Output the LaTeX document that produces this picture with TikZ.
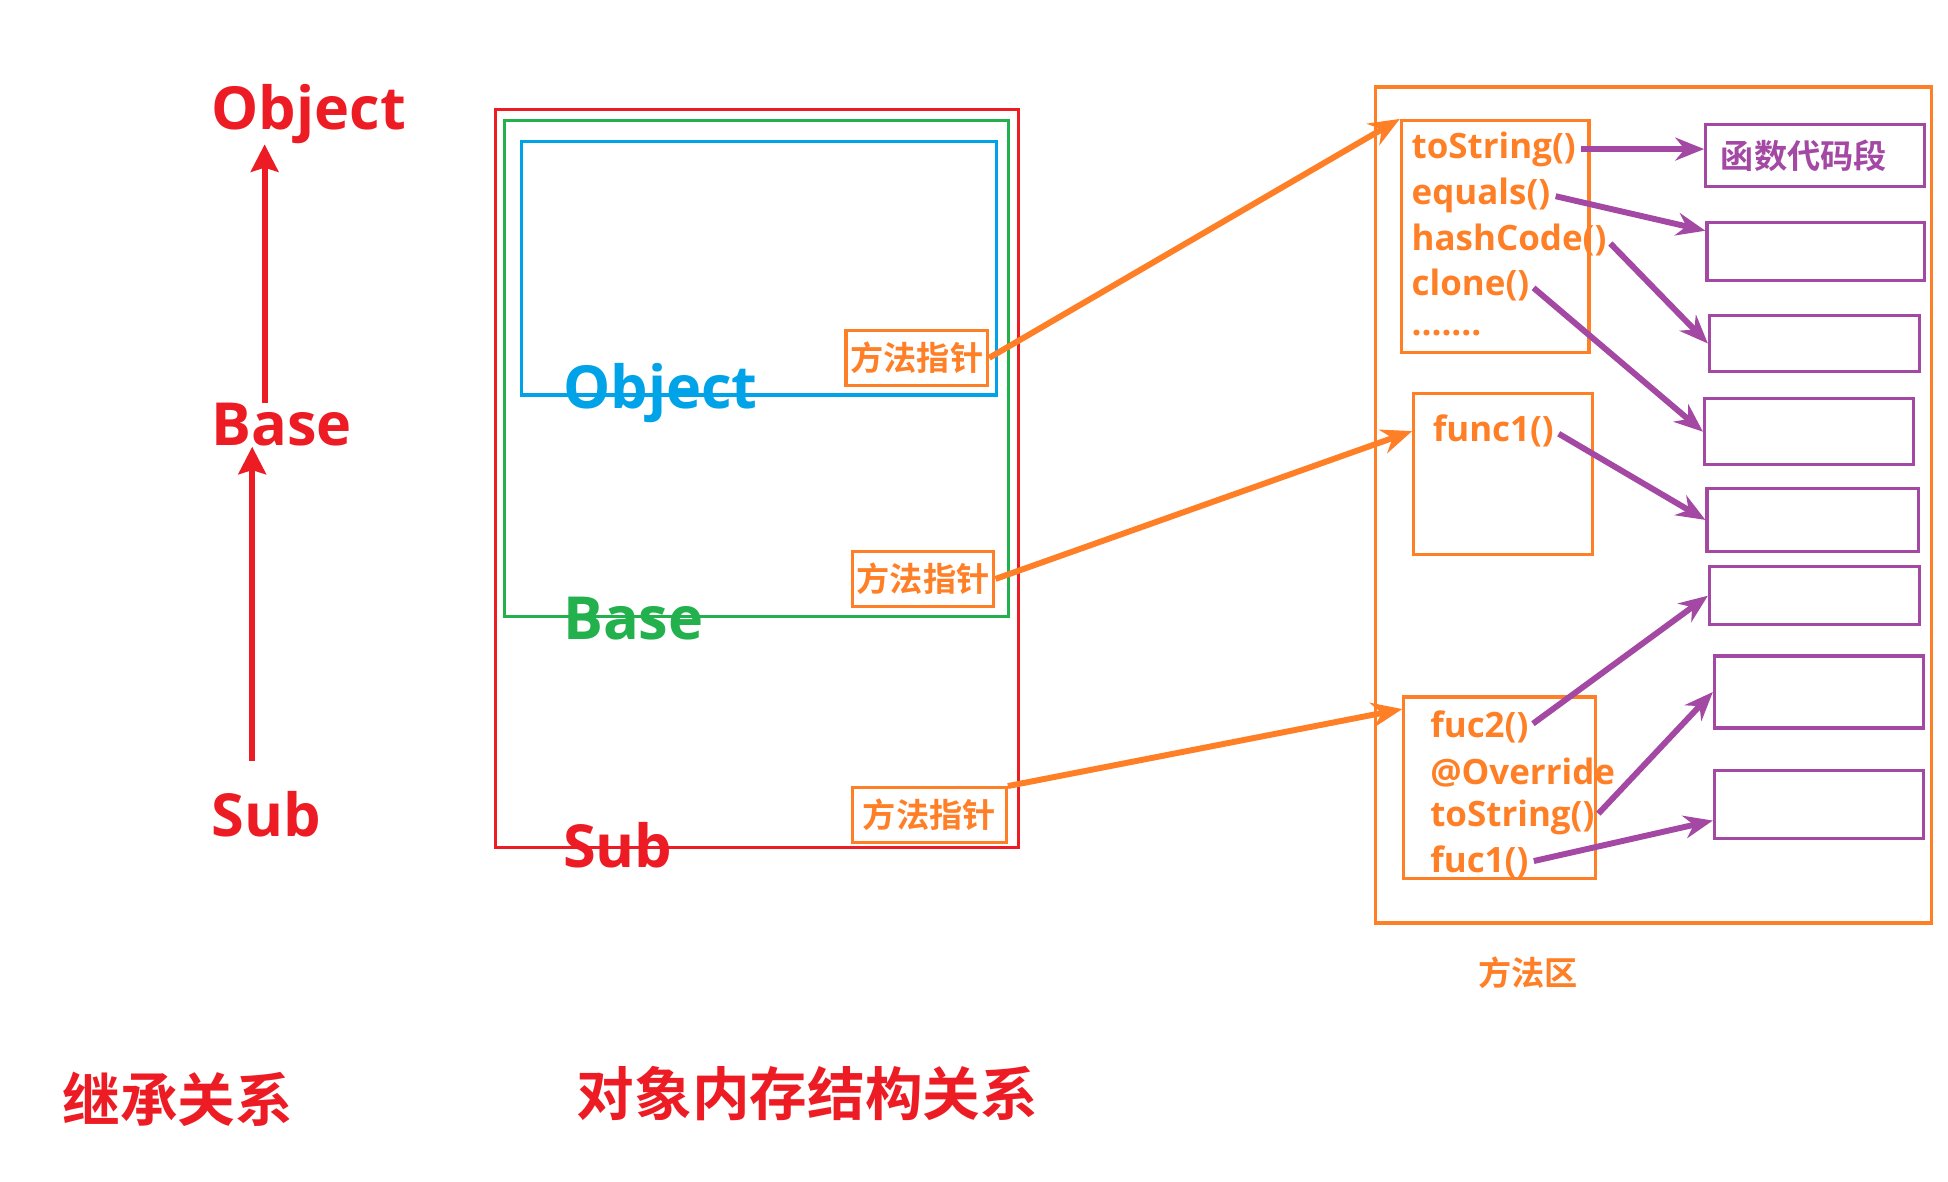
\documentclass[tikz,border=0pt]{standalone}
\usepackage{fontspec}
\setmainfont{Open Sans}
\newfontfamily\cjk{Noto Sans CJK SC}[BoldFont={Noto Sans CJK SC Bold}]
\usetikzlibrary{arrows.meta,fit,calc}

\definecolor{pred}{HTML}{ED1C24}
\definecolor{pgreen}{HTML}{22B14C}
\definecolor{pblue}{HTML}{00A2E8}
\definecolor{porange}{HTML}{FF7F27}
\definecolor{ppurple}{HTML}{A349A4}

\tikzset{
  frame/.style={draw, line width=1.8pt, inner sep=0pt},
  big/.style={font=\bfseries\fontsize{34}{40}\selectfont, inner sep=0pt, anchor=west},
  title/.style={text=pred, font=\cjk\bfseries\fontsize{33}{40}\selectfont},
  ptr/.style={frame, draw=porange, text=porange, font=\cjk\bfseries\fontsize{19}{22}\selectfont,
    minimum width=2.85cm, minimum height=1.1cm},
  meth/.style={text=porange, font=\bfseries\fontsize{20}{24}\selectfont, anchor=west, inner sep=0pt},
  code/.style={frame, draw=ppurple},
  inh/.style={draw=pred, line width=3.4pt, -{Stealth[length=0.55cm,width=0.55cm,inset=0.08cm]}},
  link/.style={draw=porange, line width=3.4pt, -{Stealth[length=0.62cm,width=0.5cm]}},
  call/.style={draw=ppurple, line width=3.4pt, shorten <=3pt, -{Stealth[length=0.58cm,width=0.46cm]}},
}

\begin{document}
\begin{tikzpicture}[x=0.025cm, y=-0.025cm]
\useasboundingbox (0,0) rectangle (1568,951);

% inheritance
\node[big, text=pred] (objL) at (170,92) {Object};
\node[big, text=pred] (baseL) at (170,342) {Base};
\node[big, text=pred] (subL) at (170,655) {Sub};
\coordinate (axU) at (213,0);
\coordinate (axD) at (203,0);
\draw[inh] (baseL.north -| axU) -- (objL.south -| axU);
\draw[inh] ($(subL.north -| axD)+(0,-24)$) -- (baseL.south -| axD);
\node[title] (inhT) at (143,885) {继承关系};

% object memory layout
\node[frame, draw=pred, fit={(399,88) (820,682)}] (subBox) {};
\node[frame, draw=pgreen, fit={(406,97) (812,496)}] (baseBox) {};
\node[frame, draw=pblue, fit={(420,114) (802,318)}] (objBox) {};
\node[big, text=pblue] (objM) at (453,316) {Object};
\node[big, text=pgreen] (baseM) at (453,498) {Base};
\node[big, text=pred] (subM) at (453,680) {Sub};
\node[ptr] (ptrO) at (738,288) {方法指针};
\node[ptr] (ptrB) at (743,466) {方法指针};
\node[ptr, minimum width=3.1cm] (ptrS) at (748,656) {方法指针};
\node[title] (memT) at (650,880) {对象内存结构关系};

% method area
\node[frame, draw=porange, fit={(1107,70) (1555,743)}] (area) {};
\node[text=porange, font=\cjk\bfseries\fontsize{19}{22}\selectfont] (areaL) at (1230,783) {方法区};
\node[frame, draw=porange, fit={(1128,97) (1279,284)}] (mObj) {};
\node[frame, draw=porange, fit={(1138,317) (1282,446)}] (mBase) {};
\node[frame, draw=porange, fit={(1130,561) (1284,707)}] (mSub) {};
\node[meth] (oStr) at (1136,120) {toString()};
\node[meth] (oEq) at (1136,157) {equals()};
\node[meth] (oHash) at (1136,193) {hashCode()};
\node[meth] (oClone) at (1136,229) {clone()};
\node[meth] (oDots) at (1136,268) {.......};
\node[meth] (bF1) at (1153,347) {func1()};
\node[meth] (sF2) at (1151,585) {fuc2()};
\node[meth] (sOver) at (1151,622) {@Override};
\node[meth] (sStr) at (1151,658) {toString()};
\node[meth] (sF1) at (1151,694) {fuc1()};

% code segments
\node[code, fit={(1373,100) (1549,150)}] (c1) {};
\node[text=ppurple, font=\cjk\bfseries\fontsize{19}{22}\selectfont] (c1L) at (1452,125) {函数代码段};
\node[code, fit={(1374,179) (1549,226)}] (c2) {};
\node[code, fit={(1376,254) (1545,299)}] (c3) {};
\node[code, fit={(1372,321) (1540,374)}] (c4) {};
\node[code, fit={(1374,393) (1544,444)}] (c5) {};
\node[code, fit={(1376,456) (1545,503)}] (c6) {};
\node[code, fit={(1380,528) (1548,586)}] (c7) {};
\node[code, fit={(1380,620) (1548,675)}] (c8) {};

% pointers into the method area
\draw[link] (ptrO.east) -- (mObj.north west);
\draw[link] (ptrB.east) -- (bF1 -| mBase.west);
\draw[link] (ptrS.north east) -- ($(mSub.north west)+(0,11)$);

% methods to code
\draw[call] (oStr.east) -- (oStr -| c1.west);
\draw[call] (oEq.east) -- ($(c2.north west)+(0,8)$);
\draw[call] (oHash.east) -- (c3.west);
\draw[call] (oClone.east) -- (c4.west);
\draw[call] (bF1.east) -- (c5.west);
\draw[call] (sF2.east) -- (c6.west);
\draw[call] (sStr.east) -- (c7.west);
\draw[call] (sF1.east) -- ($(c8.west)+(0,13)$);
\end{tikzpicture}
\end{document}
